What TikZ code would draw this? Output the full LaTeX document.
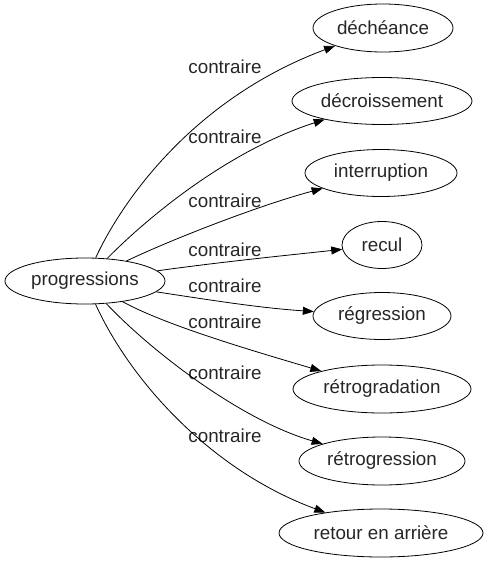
\documentclass[tikz,border=0pt]{standalone}
\usepackage{fontspec}
\setmainfont{Liberation Sans}
\usetikzlibrary{shapes.geometric,arrows.meta}
\begin{document}
\begin{tikzpicture}[x=1pt,y=-1pt,
  word/.style={draw,ellipse,inner sep=0pt,line width=0.8pt,font=\fontsize{18.8}{20}\selectfont,text=black!85},
  lbl/.style={font=\fontsize{18.8}{20}\selectfont,text=black!85,inner sep=0pt},
  link/.style={line width=0.8pt,-{Triangle[length=11pt,width=8pt]}}]
\useasboundingbox (0,0) rectangle (490,563);
\node[word,minimum width=160pt,minimum height=46pt] (p) at (85,281) {progressions};
\node[word,minimum width=140pt,minimum height=48pt] (t1) at (383,28) {déchéance};
\node[word,minimum width=180pt,minimum height=47pt] (t2) at (382,101) {décroissement};
\node[word,minimum width=152pt,minimum height=47pt] (t3) at (381,173) {interruption};
\node[word,minimum width=80pt,minimum height=47pt] (t4) at (382,245) {recul};
\node[word,minimum width=138pt,minimum height=47pt] (t5) at (382,316) {régression};
\node[word,minimum width=178pt,minimum height=48pt] (t6) at (382,389) {rétrogradation};
\node[word,minimum width=166pt,minimum height=48pt] (t7) at (382,461) {rétrogression};
\node[word,minimum width=204pt,minimum height=48pt] (t8) at (381,533) {retour en arrière};
\node[lbl] (l1) at (225,67) {contraire};
\node[lbl] (l2) at (225,137) {contraire};
\node[lbl] (l3) at (225,201) {contraire};
\node[lbl] (l4) at (225,250) {contraire};
\node[lbl] (l5) at (225,286) {contraire};
\node[lbl] (l6) at (225,322) {contraire};
\node[lbl] (l7) at (225,373) {contraire};
\node[lbl] (l8) at (225,436) {contraire};
\draw[link] (p) .. controls (120,205) and (190,100) .. (t1);
\draw[link] (p) .. controls (150,215) and (230,150) .. (t2);
\draw[link] (p) .. controls (170,240) and (260,205) .. (t3);
\draw[link] (p) .. controls (220,262) and (290,255) .. (t4);
\draw[link] (p) .. controls (210,300) and (260,308) .. (t5);
\draw[link] (p) .. controls (165,325) and (250,350) .. (t6);
\draw[link] (p) .. controls (150,350) and (240,420) .. (t7);
\draw[link] (p) .. controls (130,380) and (210,470) .. (t8);
\end{tikzpicture}
\end{document}
